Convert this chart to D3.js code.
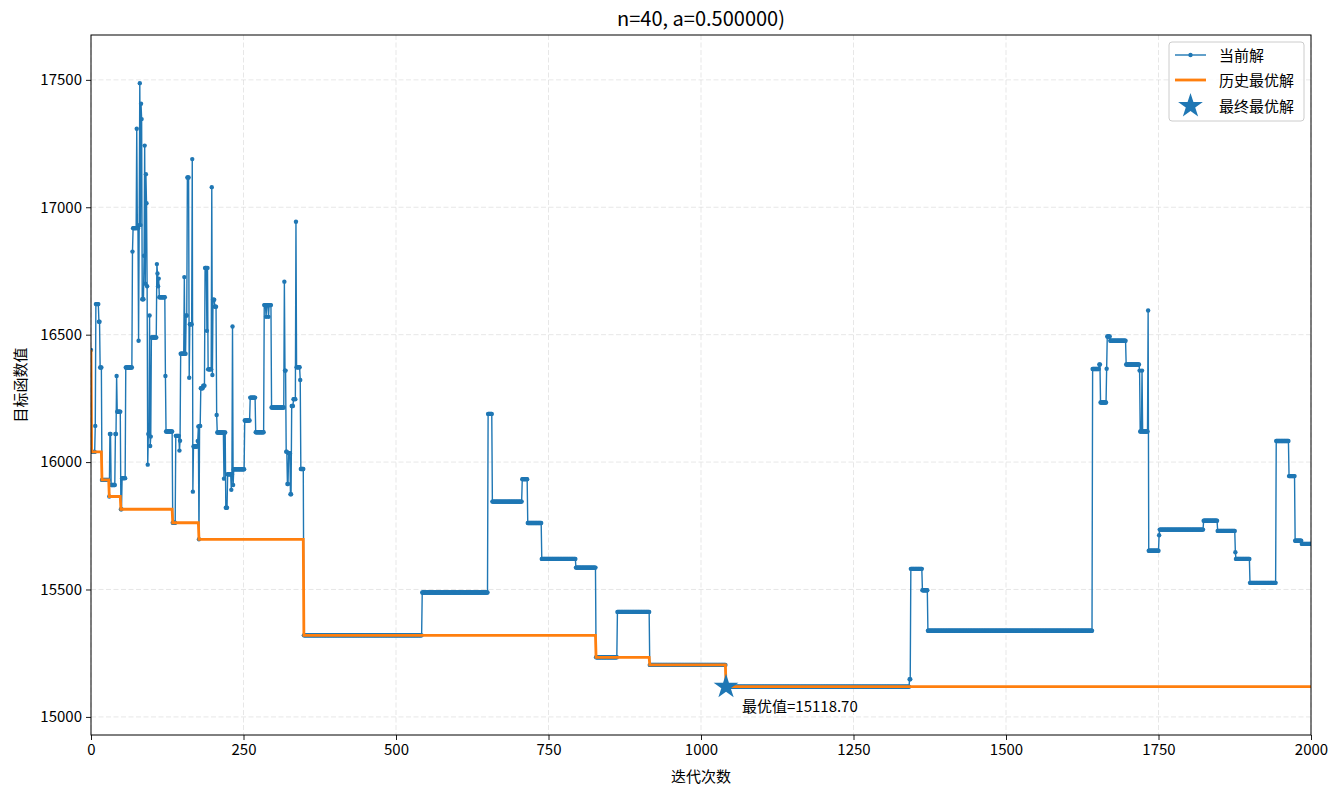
<!DOCTYPE html>
<html><head><meta charset="utf-8">
<script src="https://cdn.jsdelivr.net/npm/d3@7"></script>
<style>
body{margin:0;background:#fff;}
text{font-family:"Noto Sans CJK SC","Noto Sans",sans-serif;}
</style></head>
<body><svg id="c" width="1341" height="797"></svg>
<script>
// Current solution: run start iterations and the value held from that iteration
const curIter = [0,1,7,8,13,15,18,30,31,33,40,42,43,49,51,57,68,69,75,76,78,79,80,81,82,83,84,87,88,89,90,91,92,93,94,96,97,98,99,108,109,110,111,112,122,123,134,139,145,146,147,153,154,156,158,161,162,166,167,168,175,176,177,178,180,184,187,190,191,192,198,199,200,203,206,207,218,219,221,224,230,231,232,233,234,252,261,270,284,287,288,291,292,296,317,318,320,322,324,327,329,332,336,337,343,344,349,543,651,658,707,716,739,795,828,863,916,1041,1342,1344,1363,1372,1642,1653,1655,1665,1666,1671,1697,1719,1720,1723,1724,1733,1734,1751,1752,1824,1847,1876,1877,1900,1943,1964,1974,1985];
const curVal  = [16440,16040,16142,16620,16551,16371,15930,15865,16110,15910,16110,16338,16198,15815,15937,16371,16826,16918,17308,16918,16476,16930,17487,16930,17406,17346,16639,16810,17242,16700,17130,17016,16690,15990,16110,16575,16063,16100,16489,16777,16740,16690,16720,16647,16338,16120,15762,16103,16045,16084,16425,16726,16425,16575,17117,16331,16541,17189,15884,16061,16083,16140,15697,16142,16290,16300,16762,16515,16762,16364,17079,16342,16637,16610,16185,16116,15935,16116,15821,15952,15891,15952,16532,15910,15972,16163,16253,16117,16616,16570,16616,16570,16616,16214,16708,16359,16041,15914,16035,15874,16220,16247,16943,16372,16322,15973,15320,15488,16189,15845,15933,15761,15620,15586,15234,15412,15204,15118.7,15148,15581,15497,15338,16365,16383,16234,16366,16493,16476,16383,16359,16120,16359,16120,16595,15652,15713,15735,15770,15730,15646,15620,15526,16083,15945,15691,15679];
// Historical best: run start iterations and values
const bestIter = [0,1,18,30,49,134,177,349,828,916,1041];
const bestVal  = [16440,16040,15930,15865,15815,15762,15697,15320,15234,15204,15118.7];
const lastIter = 2000;
const finalBest = {iter:1041, value:15118.7};
const xTicks = [0,250,500,750,1000,1250,1500,1750,2000];
const yTicks = [15000,15500,16000,16500,17000,17500];
const titleText = "n=40, a=0.500000)";
const xLabel = "迭代次数", yLabel = "目标函数值";
const legendLabels = ["当前解","历史最优解","最终最优解"];

function expand(starts, vals){
  const pts=[];
  for(let i=0;i<starts.length;i++){
    const end = i<starts.length-1 ? starts[i+1]-1 : lastIter;
    for(let t=starts[i]; t<=end; t++) pts.push([t, vals[i]]);
  }
  return pts;
}
const cur = expand(curIter, curVal);
const best = expand(bestIter, bestVal);

const L=91,R=1311,T=35,B=735;
const FS=15;
const svg=d3.select("#c");
const x=d3.scaleLinear().domain([0,2000]).range([L,R]);
const y=d3.scaleLinear().domain([14929,17676]).range([B,T]);

// grid
const g=svg.append("g");
xTicks.forEach(v=>g.append("line").attr("x1",x(v)).attr("x2",x(v)).attr("y1",T).attr("y2",B)
  .attr("stroke","#b0b0b0").attr("stroke-opacity",0.35).attr("stroke-dasharray","5,2.5").attr("stroke-width",0.9));
yTicks.forEach(v=>g.append("line").attr("y1",y(v)).attr("y2",y(v)).attr("x1",L).attr("x2",R)
  .attr("stroke","#b0b0b0").attr("stroke-opacity",0.35).attr("stroke-dasharray","5,2.5").attr("stroke-width",0.9));

svg.append("clipPath").attr("id","cp").append("rect").attr("x",L).attr("y",T).attr("width",R-L).attr("height",B-T);
const plot=svg.append("g").attr("clip-path","url(#cp)");
const line=d3.line().x(d=>x(d[0])).y(d=>y(d[1]));
plot.append("path").datum(cur).attr("d",line).attr("fill","none").attr("stroke","#1f77b4").attr("stroke-width",1.4);
plot.append("g").selectAll("circle").data(cur).join("circle")
  .attr("cx",d=>x(d[0])).attr("cy",d=>y(d[1])).attr("r",2.2).attr("fill","#1f77b4");
plot.append("path").datum(best).attr("d",line).attr("fill","none").attr("stroke","#ff7f0e").attr("stroke-width",2.8);

// star + annotation
const star=d3.symbol().type(d3.symbolStar).size(190);
svg.append("path").attr("d",star()).attr("transform",`translate(${x(finalBest.iter)},${y(finalBest.value)})`).attr("fill","#1f77b4");
svg.append("text").attr("x",x(finalBest.iter)+16).attr("y",y(finalBest.value)+25)
  .attr("font-size",FS).attr("fill","#000").text("最优值="+finalBest.value.toFixed(2));

// axes
const xa=svg.append("g").attr("transform",`translate(0,${B})`)
  .call(d3.axisBottom(x).tickValues(xTicks).tickSize(5).tickPadding(4).tickFormat(d3.format("d")));
const ya=svg.append("g").attr("transform",`translate(${L},0)`)
  .call(d3.axisLeft(y).tickValues(yTicks).tickSize(5).tickPadding(4).tickFormat(d3.format("d")));
[xa,ya].forEach(a=>{a.select(".domain").remove();a.selectAll("text").attr("font-size",FS).attr("fill","#000")
  .attr("font-family",'"Noto Sans CJK SC","Noto Sans",sans-serif');a.selectAll("line").attr("stroke","#000").attr("stroke-width",0.9);});
svg.append("rect").attr("x",L).attr("y",T).attr("width",R-L).attr("height",B-T).attr("fill","none").attr("stroke","#000").attr("stroke-width",1);

svg.append("text").attr("x",(L+R)/2).attr("y",26).attr("text-anchor","middle").attr("font-size",20).text(titleText);
svg.append("text").attr("x",(L+R)/2).attr("y",782).attr("text-anchor","middle").attr("font-size",FS).text(xLabel);
svg.append("text").attr("transform",`translate(26,${(T+B)/2}) rotate(-90)`).attr("text-anchor","middle").attr("font-size",FS).text(yLabel);

// legend
const lg=svg.append("g");
lg.append("rect").attr("x",1169).attr("y",42).attr("width",135).attr("height",79).attr("rx",3)
  .attr("fill","#fff").attr("fill-opacity",0.8).attr("stroke","#ccc");
const rows=[55,80,106];
lg.append("line").attr("x1",1175).attr("x2",1206).attr("y1",rows[0]).attr("y2",rows[0]).attr("stroke","#1f77b4").attr("stroke-width",1.4);
lg.append("circle").attr("cx",1190.5).attr("cy",rows[0]).attr("r",2.2).attr("fill","#1f77b4");
lg.append("line").attr("x1",1175).attr("x2",1206).attr("y1",rows[1]).attr("y2",rows[1]).attr("stroke","#ff7f0e").attr("stroke-width",2.8);
lg.append("path").attr("d",star()).attr("transform",`translate(1190.5,${rows[2]})`).attr("fill","#1f77b4");
legendLabels.forEach((t,i)=>lg.append("text").attr("x",1219).attr("y",rows[i]+5.5).attr("font-size",FS).text(t));
</script></body></html>
